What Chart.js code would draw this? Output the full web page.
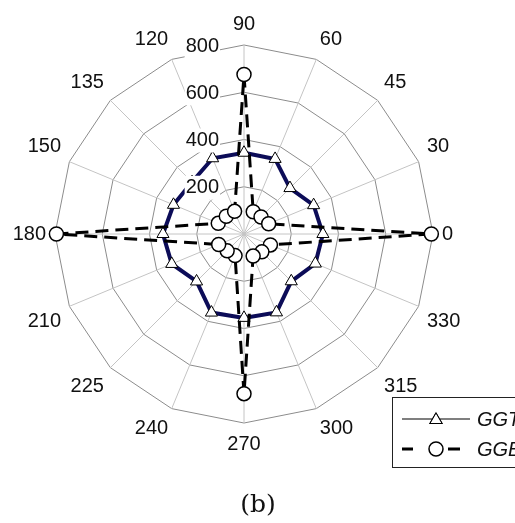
<!DOCTYPE html>
<html>
<head>
<meta charset="utf-8">
<script src="https://cdn.jsdelivr.net/npm/chart.js@4.4.1/dist/chart.umd.min.js"></script>
<style>
  html, body { margin: 0; padding: 0; background: #fff; }
</style>
</head>
<body>
<canvas id="radarChart" width="515" height="523"></canvas>
<script>
// categories, clockwise from the top (90 at top, 0 on the right)
const angleLabels = ["90", "60", "45", "30", "0", "330", "315", "300", "270", "240", "225", "210", "180", "150", "135", "120"];
const ggtValues = [344, 344, 275, 319, 334, 327, 283, 359, 355, 360, 284, 331, 343, 323, 311, 347];
const ggeValues = [675, 102, 102, 113, 793, 121, 107, 101, 676, 99, 101, 116, 794, 118, 106, 104];
const tickValues = [200, 400, 600, 800];
const seriesNames = ["GGT", "GGE"];

const FONT = '"Liberation Sans", Arial, sans-serif';

/* value axis labels, drawn over the series like the original */
const tickLabelPlugin = {
  id: "tickLabels",
  afterDatasetsDraw(chart) {
    const s = chart.scales.r;
    const ctx = chart.ctx;
    ctx.save();
    ctx.font = "20px " + FONT;
    ctx.textAlign = "right";
    ctx.textBaseline = "middle";
    tickValues.forEach(v => {
      const y = s.yCenter - s.getDistanceFromCenterForValue(v) + 1;
      const x = s.xCenter - 25;
      const w = ctx.measureText(String(v)).width;
      ctx.fillStyle = "#fff";
      ctx.fillRect(x - w - 1, y - 12, w + 2, 24);
      ctx.fillStyle = "#111";
      ctx.fillText(String(v), x, y);
    });
    ctx.restore();
  }
};

/* legend box in the lower right corner + caption */
const legendPlugin = {
  id: "boxLegend",
  afterDraw(chart) {
    const ctx = chart.ctx;
    const ds = chart.data.datasets;
    ctx.save();
    ctx.fillStyle = "#fff";
    ctx.fillRect(392, 397, 140, 71);
    ctx.strokeStyle = "#222";
    ctx.lineWidth = 1;
    ctx.strokeRect(392.5, 397.5, 140, 70);

    // row 1: solid line + triangle
    let y = 419;
    ctx.beginPath();
    ctx.moveTo(402, y);
    ctx.lineTo(470, y);
    ctx.strokeStyle = "#000";
    ctx.lineWidth = 1.2;
    ctx.stroke();
    Chart.helpers.drawPoint(ctx, {
      pointStyle: "triangle", radius: 7, borderWidth: 1
    }, 436, y + 1);
    ctx.fillStyle = "#fff";
    ctx.strokeStyle = "#000";
    ctx.lineWidth = 1;
    ctx.beginPath();
    for (let k = 0; k < 3; k++) {
      const a = k * 2 * Math.PI / 3;
      const px = 436 + Math.sin(a) * 7, py = y + 1 - Math.cos(a) * 7;
      if (k === 0) ctx.moveTo(px, py); else ctx.lineTo(px, py);
    }
    ctx.closePath();
    ctx.fill();
    ctx.stroke();

    // row 2: dashed line + circle
    y = 449;
    ctx.strokeStyle = "#000";
    ctx.lineWidth = 3;
    ctx.beginPath();
    ctx.moveTo(402, y); ctx.lineTo(413, y);
    ctx.moveTo(448, y); ctx.lineTo(460, y);
    ctx.stroke();
    ctx.beginPath();
    ctx.arc(436, y, 7, 0, Math.PI * 2);
    ctx.fillStyle = "#fff";
    ctx.fill();
    ctx.lineWidth = 1.5;
    ctx.stroke();

    ctx.fillStyle = "#111";
    ctx.font = "italic 20px " + FONT;
    ctx.textAlign = "left";
    ctx.textBaseline = "middle";
    ctx.fillText(ds[0].label, 477, 420);
    ctx.fillText(ds[1].label, 477, 450);

    // caption
    ctx.font = '25px "DejaVu Serif", "Liberation Serif", serif';
    ctx.textAlign = "center";
    ctx.fillText("(b)", 258, 505);
    ctx.restore();
  }
};

new Chart(document.getElementById("radarChart"), {
  type: "radar",
  data: {
    labels: angleLabels,
    datasets: [
      {
        label: seriesNames[0],
        data: ggtValues,
        borderColor: "#0c0c58",
        borderWidth: 4,
        fill: false,
        tension: 0,
        pointStyle: "triangle",
        pointRadius: 7,
        pointBackgroundColor: "#fff",
        pointBorderColor: "#000",
        pointBorderWidth: 1,
        order: 2
      },
      {
        label: seriesNames[1],
        data: ggeValues,
        borderColor: "#000",
        borderWidth: 3,
        borderDash: [13, 7],
        fill: false,
        tension: 0,
        pointStyle: "circle",
        pointRadius: 7,
        pointBackgroundColor: "#fff",
        pointBorderColor: "#000",
        pointBorderWidth: 1.5,
        order: 1
      }
    ]
  },
  options: {
    responsive: false,
    animation: false,
    layout: { padding: { left: 0, right: 43, top: 12, bottom: 67 } },
    plugins: {
      legend: { display: false },
      tooltip: { enabled: false }
    },
    scales: {
      r: {
        min: 0,
        max: 800,
        ticks: { stepSize: 200, display: false },
        grid: { color: "#8c8c8c", lineWidth: 1 },
        angleLines: { color: "#c4c4c4", lineWidth: 1 },
        pointLabels: {
          padding: 9,
          color: "#111",
          font: { family: FONT, size: 20 }
        }
      }
    }
  },
  plugins: [tickLabelPlugin, legendPlugin]
});
</script>
</body>
</html>
